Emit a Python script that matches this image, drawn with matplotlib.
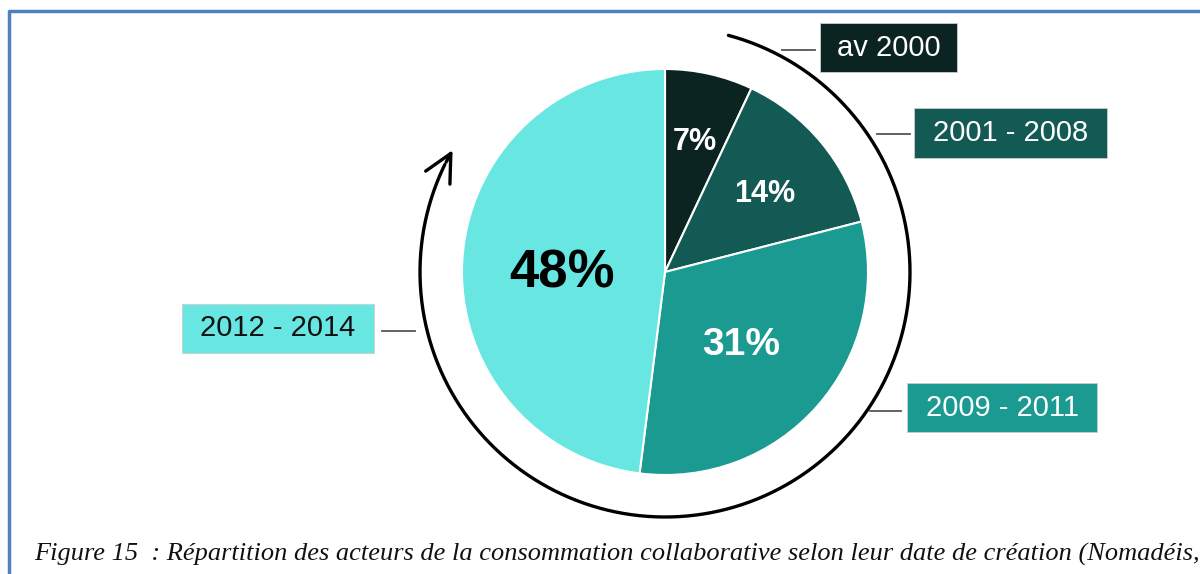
import numpy as np
import matplotlib.pyplot as plt
from matplotlib.patches import Rectangle

# data
periods = ['av 2000', '2001 - 2008', '2009 - 2011', '2012 - 2014']
shares = [7, 14, 31, 48]
colors = ['#0b2321', '#135a54', '#1b9a92', '#68e6e2']
pct_colors = ['white', 'white', 'white', 'black']
pct_sizes = [22, 22, 28, 38]
pct_dist = [0.68, 0.64, 0.50, 0.51]
caption = ("Figure 15  : Répartition des acteurs de la consommation collaborative "
           "selon leur date de création (Nomadéis, 2014)")

H = 574
fig = plt.figure(figsize=(12, 5.74), dpi=100)
ax = fig.add_axes([0, 0, 1, 1])

cx, cy, rad = 665, H - 272, 203
wedges, _ = ax.pie(shares, startangle=90, counterclock=False, colors=colors,
                   center=(cx, cy), radius=rad,
                   wedgeprops=dict(edgecolor='white', linewidth=1.5))

# percentage labels inside wedges (nudged down so caps sit centred)
for w, s, c, fs, d in zip(wedges, shares, pct_colors, pct_sizes, pct_dist):
    mid = np.deg2rad((w.theta1 + w.theta2) / 2)
    ax.text(cx + d * rad * np.cos(mid), cy + d * rad * np.sin(mid) - 0.16 * fs * 1.39,
            f'{s}%', ha='center', va='center', color=c, fontsize=fs,
            fontweight='bold', family='Liberation Sans')

# curved arrow around the pie
ra = rad + 42
th = np.deg2rad(np.linspace(75, -206, 300))
ax.plot(cx + ra * np.cos(th), cy + ra * np.sin(th), color='black', lw=2.4,
        solid_capstyle='round')
t0, t1 = np.deg2rad(-206), np.deg2rad(-210.5)
ax.annotate('', xy=(cx + ra * np.cos(t1), cy + ra * np.sin(t1)),
            xytext=(cx + ra * np.cos(t0), cy + ra * np.sin(t0)),
            arrowprops=dict(arrowstyle='->,head_length=0.9,head_width=0.45',
                            color='black', lw=2.4, mutation_scale=22))

# period label boxes (x0, y0 top, width, height) and leader lines
boxes = [(820, 23, 137, 49), (914, 108, 193, 50), (907, 383, 190, 49), (182, 304, 192, 49)]
leaders = [((782, 815), 50), ((877, 910), 134), ((870, 901), 411), ((382, 415), 331)]
text_colors = ['white', 'white', 'white', '#111111']
for lab, (x0, y0, bw, bh), (lx, ly), col, tc in zip(periods, boxes, leaders, colors, text_colors):
    ax.add_patch(Rectangle((x0, H - y0 - bh), bw, bh, facecolor=col,
                           edgecolor='#cccccc', lw=0.6))
    ax.text(x0 + bw / 2, H - y0 - bh / 2, lab, ha='center', va='center',
            color=tc, fontsize=21, family='Liberation Sans')
    ax.plot(lx, [H - ly, H - ly], color='#555555', lw=1.3)

# page frame and caption (runs off the right edge like the source screenshot)
ax.plot([9, 9, 1200], [0, H - 11, H - 11], color='#4f81bd', lw=2.5)
ax.text(34, H - 561, caption, ha='left', va='baseline', fontsize=19,
        style='italic', family='Liberation Serif', color='#111111')

ax.set_xlim(0, 1200)
ax.set_ylim(0, H)
ax.set_aspect('equal')
ax.axis('off')

fig.savefig('out.png', dpi=100, facecolor='white')
